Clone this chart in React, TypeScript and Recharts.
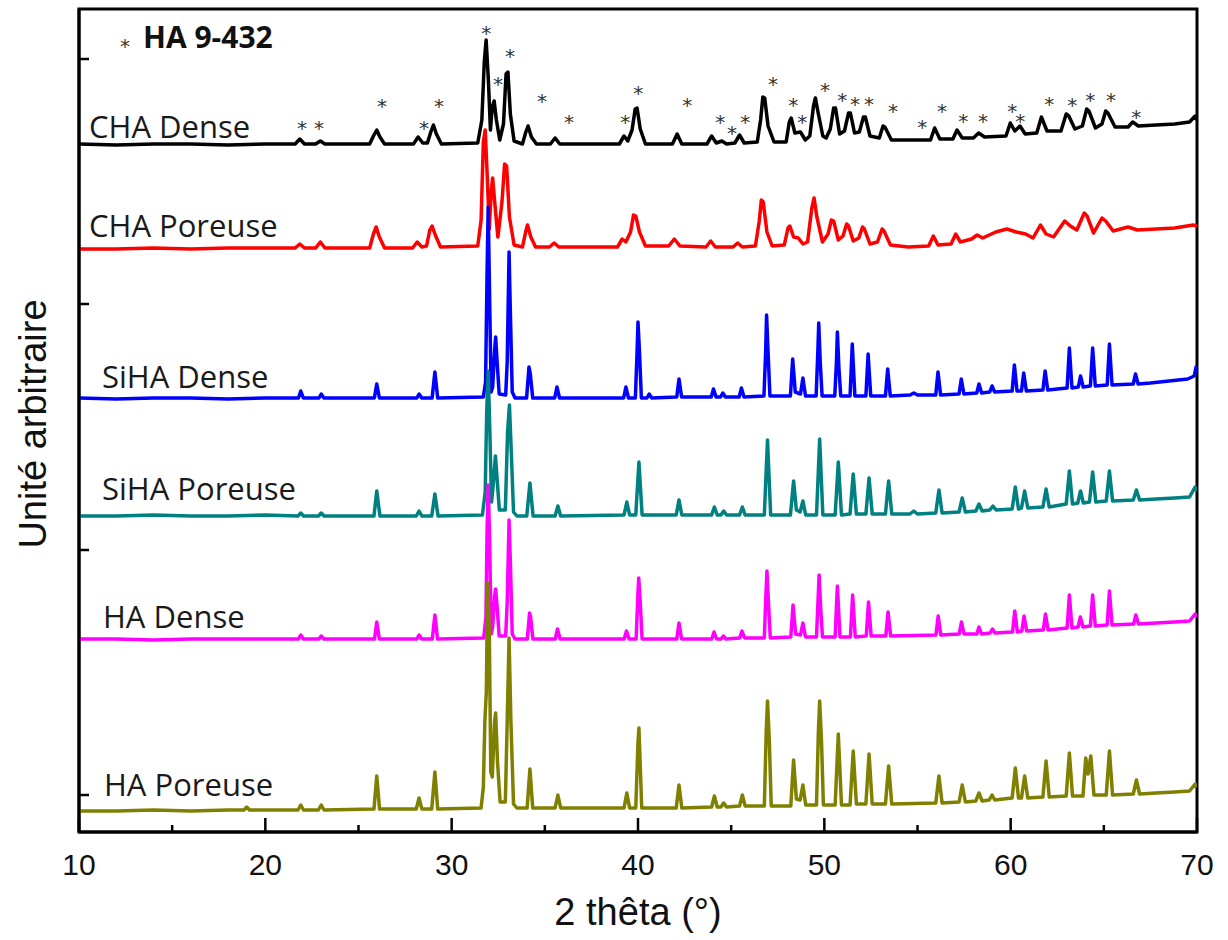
import React from "react";
import { ComposedChart, Line, Scatter, XAxis, YAxis, ReferenceArea } from "recharts";

type Pt = [number, number];

// 2 thêta (°) vs intensity, arbitrary units (the six patterns are stacked with an offset)
const chaDense: Pt[] = [
  [10, 688], [12, 687], [14, 688], [16, 688], [18, 687], [20, 688],
  [21.6, 688], [21.85, 693], [22.1, 688], [22.7, 688], [22.95, 691], [23.2, 688],
  [25.6, 688], [25.8, 696], [25.98, 702], [26.15, 695], [26.4, 688],
  [27.95, 688], [28.2, 695], [28.45, 689], [28.7, 689], [28.88, 700], [29.02, 707], [29.18, 698], [29.45, 688],
  [31.4, 689], [31.62, 712], [31.75, 770], [31.85, 792], [31.97, 752], [32.08, 702], [32.18, 725], [32.28, 731],
  [32.4, 712], [32.58, 692], [32.78, 708], [32.92, 758], [33.02, 760], [33.15, 718], [33.35, 691],
  [33.8, 688], [33.98, 700], [34.1, 706], [34.28, 695], [34.55, 688],
  [35.3, 688], [35.55, 694], [35.8, 688],
  [39.0, 688], [39.25, 696], [39.45, 691], [39.68, 702], [39.85, 723], [39.95, 724], [40.12, 703], [40.4, 688],
  [41.85, 688], [42.1, 698], [42.35, 688],
  [43.7, 688], [43.95, 696], [44.2, 689], [44.5, 691], [44.75, 688],
  [45.2, 689], [45.45, 697], [45.7, 689],
  [46.4, 690], [46.58, 712], [46.7, 735], [46.8, 734], [46.98, 706], [47.3, 690],
  [47.95, 690], [48.12, 710], [48.22, 714], [48.42, 699], [48.72, 700], [48.98, 692],
  [49.22, 696], [49.42, 726], [49.52, 734], [49.68, 718], [49.92, 696],
  [50.1, 694], [50.32, 703], [50.5, 724], [50.6, 724], [50.82, 698],
  [51.08, 701], [51.3, 719], [51.4, 719], [51.62, 699],
  [51.88, 700], [52.1, 715], [52.2, 715], [52.45, 696],
  [52.95, 694], [53.15, 706], [53.25, 705], [53.6, 692],
  [54.5, 692], [55.7, 692], [55.92, 704], [56.2, 693],
  [56.9, 693], [57.12, 702], [57.4, 694], [58.0, 694], [58.28, 699], [58.6, 695],
  [59.75, 696], [59.98, 709], [60.22, 701], [60.5, 706], [60.78, 698],
  [61.4, 699], [61.65, 715], [61.95, 701],
  [62.7, 701], [62.98, 718], [63.12, 716], [63.45, 703],
  [63.85, 706], [64.08, 723], [64.2, 721], [64.55, 704],
  [64.9, 708], [65.1, 721], [65.22, 719], [65.6, 705],
  [66.3, 705], [66.55, 710], [66.85, 706], [67.8, 707], [68.8, 708], [69.6, 710], [69.9, 716], [70, 712],
];

const chaPoreuse: Pt[] = [
  [10, 583], [12, 583], [14, 584], [16, 583], [18, 584], [20, 584],
  [21.6, 584], [21.85, 588], [22.1, 584], [22.7, 584], [22.95, 590], [23.2, 584],
  [25.6, 584], [25.8, 598], [25.95, 605], [26.12, 595], [26.4, 584],
  [27.9, 584], [28.15, 590], [28.4, 585], [28.65, 586], [28.83, 602], [28.95, 606], [29.12, 597], [29.4, 585],
  [31.4, 586], [31.58, 612], [31.7, 690], [31.8, 702], [31.9, 660], [32.02, 603], [32.12, 640], [32.2, 654],
  [32.3, 632], [32.48, 595], [32.7, 630], [32.84, 668], [32.95, 666], [33.1, 615], [33.35, 587],
  [33.8, 585], [33.97, 600], [34.07, 607], [34.25, 595], [34.5, 585],
  [35.25, 585], [35.5, 589], [35.75, 585],
  [38.9, 585], [39.15, 593], [39.35, 590], [39.6, 600], [39.76, 617], [39.88, 616], [40.08, 600], [40.4, 586],
  [41.65, 586], [41.95, 593], [42.25, 586],
  [43.65, 585], [43.9, 591], [44.15, 585],
  [45.1, 585], [45.35, 589], [45.6, 585],
  [46.3, 586], [46.5, 610], [46.62, 632], [46.72, 630], [46.92, 600], [47.2, 586],
  [47.85, 587], [48.05, 604], [48.15, 606], [48.35, 595], [48.6, 594], [48.85, 588],
  [49.1, 590], [49.33, 624], [49.45, 634], [49.6, 615], [49.9, 590],
  [50.2, 598], [50.38, 612], [50.5, 611], [50.75, 592],
  [51.0, 596], [51.2, 608], [51.3, 606], [51.55, 591],
  [51.85, 594], [52.05, 605], [52.15, 603], [52.45, 588],
  [52.85, 590], [53.1, 603], [53.2, 601], [53.55, 587],
  [54.5, 585], [55.6, 586], [55.85, 596], [56.1, 587],
  [56.8, 588], [57.05, 598], [57.3, 590], [57.9, 593], [58.2, 597], [58.5, 594],
  [59.2, 600], [59.8, 603], [60.3, 600], [60.8, 598], [61.2, 594], [61.6, 607], [61.9, 598],
  [62.3, 595], [62.9, 611], [63.2, 606], [63.55, 602], [63.95, 619], [64.1, 616], [64.45, 599],
  [64.9, 614], [65.1, 611], [65.5, 601], [66.3, 605], [66.8, 602],
  [67.8, 603], [68.8, 604], [69.8, 607], [70, 606],
];

const siDense: Pt[] = [
  [10, 434], [12, 433], [14, 434], [16, 434], [18, 433], [20, 434],
  [21.78, 434], [21.9, 441], [22.04, 434],
  [22.88, 434], [23.0, 438], [23.14, 434],
  [25.85, 434], [25.98, 448], [26.12, 434],
  [28.13, 434], [28.25, 438], [28.39, 434],
  [28.95, 434], [29.1, 460], [29.25, 434],
  [31.7, 435], [31.82, 450], [31.9, 560], [31.96, 625], [32.04, 530], [32.12, 440], [32.2, 445], [32.3, 480],
  [32.36, 495], [32.44, 470], [32.55, 438], [32.9, 437], [32.98, 470], [33.08, 580], [33.15, 520], [33.25, 440], [33.4, 434],
  [34.02, 434], [34.15, 465], [34.22, 458], [34.35, 434],
  [35.53, 434], [35.65, 445], [35.79, 434],
  [39.23, 434], [39.35, 445], [39.49, 434],
  [39.86, 434], [39.95, 480], [40.0, 510], [40.08, 480], [40.18, 434],
  [40.48, 434], [40.6, 438], [40.74, 434],
  [42.08, 435], [42.2, 453], [42.34, 435],
  [43.93, 435], [44.05, 443], [44.19, 435],
  [44.43, 435], [44.55, 439], [44.69, 435],
  [45.43, 435], [45.55, 444], [45.69, 435],
  [46.76, 436], [46.85, 480], [46.9, 517], [46.98, 480], [47.08, 436],
  [48.18, 436], [48.3, 473], [48.44, 440], [48.72, 438], [48.85, 454], [48.99, 436],
  [49.56, 436], [49.65, 480], [49.7, 509], [49.78, 470], [49.88, 436],
  [50.56, 436], [50.65, 470], [50.7, 500], [50.78, 465], [50.88, 436],
  [51.38, 436], [51.5, 488], [51.64, 436],
  [52.23, 436], [52.35, 478], [52.49, 436],
  [53.28, 436], [53.4, 463], [53.54, 436],
  [54.6, 437], [54.8, 439], [55.0, 437],
  [55.98, 437], [56.1, 460], [56.24, 437],
  [57.23, 438], [57.35, 453], [57.49, 438],
  [58.18, 439], [58.3, 448], [58.44, 439],
  [58.88, 440], [59.0, 446], [59.14, 440],
  [60.08, 441], [60.2, 467], [60.34, 441], [60.58, 441], [60.7, 459], [60.84, 441],
  [61.73, 442], [61.85, 461], [61.99, 442],
  [63.03, 444], [63.15, 484], [63.29, 444], [63.63, 445], [63.75, 456], [63.89, 445],
  [64.28, 446], [64.4, 484], [64.54, 446],
  [65.18, 447], [65.3, 488], [65.44, 447],
  [66.58, 448], [66.7, 458], [66.84, 448],
  [67.5, 449], [68.5, 451], [69.5, 453], [69.85, 456], [69.95, 465], [70, 462],
];

const siPoreuse: Pt[] = [
  [10, 316], [12, 316], [14, 317], [16, 316], [18, 316], [20, 317],
  [21.75, 316], [21.9, 319], [22.05, 316],
  [22.85, 316], [23.0, 319], [23.15, 316],
  [25.83, 316], [25.98, 341], [26.15, 316],
  [28.1, 316], [28.25, 321], [28.4, 316],
  [28.93, 316], [29.1, 338], [29.27, 316],
  [31.65, 317], [31.8, 340], [31.88, 420], [31.96, 461], [32.05, 400], [32.14, 330], [32.22, 345], [32.35, 376],
  [32.45, 350], [32.56, 322], [32.88, 322], [33.0, 400], [33.1, 427], [33.2, 380], [33.32, 320], [33.5, 316],
  [34.03, 316], [34.2, 349], [34.37, 316],
  [35.55, 316], [35.7, 326], [35.85, 316],
  [39.25, 317], [39.4, 330], [39.55, 317],
  [39.88, 317], [40.05, 370], [40.22, 317],
  [42.05, 317], [42.2, 332], [42.35, 317],
  [43.95, 317], [44.1, 325], [44.25, 317],
  [44.45, 317], [44.6, 321], [44.75, 317],
  [45.45, 317], [45.6, 325], [45.75, 317],
  [46.78, 317], [46.95, 392], [47.12, 317],
  [48.18, 317], [48.35, 351], [48.5, 322], [48.7, 320], [48.85, 331], [49.0, 317],
  [49.58, 317], [49.75, 393], [49.92, 317],
  [50.58, 317], [50.75, 370], [50.92, 317],
  [51.38, 318], [51.55, 358], [51.72, 318],
  [52.23, 318], [52.4, 354], [52.57, 318],
  [53.28, 318], [53.45, 351], [53.62, 318],
  [54.6, 318], [54.8, 321], [55.0, 318],
  [55.98, 319], [56.15, 342], [56.32, 319],
  [57.23, 320], [57.4, 334], [57.57, 320],
  [58.13, 321], [58.3, 328], [58.47, 321],
  [58.88, 322], [59.05, 326], [59.22, 322],
  [60.08, 323], [60.25, 345], [60.42, 323], [60.58, 324], [60.75, 341], [60.92, 324],
  [61.73, 325], [61.9, 343], [62.07, 325],
  [62.98, 328], [63.15, 361], [63.32, 328], [63.6, 329], [63.75, 341], [63.9, 329],
  [64.23, 330], [64.4, 360], [64.57, 330],
  [65.13, 331], [65.3, 361], [65.47, 331],
  [66.58, 332], [66.75, 342], [66.92, 332],
  [67.8, 333], [68.8, 334], [69.6, 335], [69.9, 345], [70, 341],
];

const haDense: Pt[] = [
  [10, 193], [12, 193], [14, 192], [16, 193], [18, 193], [20, 193],
  [21.78, 193], [21.9, 197], [22.04, 193],
  [22.88, 193], [23.0, 196], [23.14, 193],
  [25.86, 193], [25.98, 210], [26.12, 193],
  [28.13, 193], [28.25, 197], [28.39, 193],
  [28.96, 193], [29.1, 217], [29.24, 193],
  [31.72, 194], [31.84, 215], [31.9, 300], [31.96, 347], [32.04, 290], [32.12, 198], [32.2, 205], [32.3, 235],
  [32.36, 243], [32.44, 225], [32.55, 196], [32.9, 196], [32.98, 230], [33.08, 312], [33.15, 270], [33.25, 198], [33.4, 193],
  [34.06, 193], [34.18, 219], [34.24, 214], [34.36, 193],
  [35.56, 193], [35.68, 203], [35.82, 193],
  [39.26, 193], [39.38, 201], [39.52, 193],
  [39.9, 193], [40.0, 240], [40.04, 254], [40.12, 230], [40.22, 193],
  [42.08, 193], [42.2, 209], [42.34, 193],
  [43.96, 193], [44.08, 200], [44.22, 193],
  [44.46, 193], [44.58, 196], [44.72, 193],
  [45.46, 194], [45.58, 201], [45.72, 194],
  [46.78, 194], [46.86, 235], [46.92, 261], [47.0, 230], [47.1, 194],
  [48.2, 195], [48.32, 227], [48.46, 198], [48.72, 197], [48.85, 209], [48.99, 195],
  [49.58, 195], [49.67, 235], [49.72, 257], [49.8, 225], [49.9, 195],
  [50.58, 195], [50.7, 246], [50.84, 195],
  [51.4, 195], [51.52, 237], [51.66, 195],
  [52.25, 196], [52.37, 230], [52.51, 196],
  [53.3, 196], [53.42, 220], [53.56, 196],
  [55.99, 197], [56.11, 216], [56.25, 197],
  [57.24, 198], [57.36, 210], [57.5, 198],
  [58.18, 198], [58.3, 205], [58.44, 198],
  [58.9, 199], [59.02, 203], [59.16, 199],
  [60.1, 200], [60.22, 221], [60.36, 200], [60.6, 201], [60.72, 216], [60.86, 201],
  [61.75, 202], [61.87, 218], [62.01, 202],
  [63.03, 204], [63.15, 237], [63.29, 204], [63.62, 205], [63.74, 215], [63.88, 205],
  [64.28, 206], [64.4, 237], [64.54, 206],
  [65.18, 207], [65.3, 241], [65.44, 207],
  [66.6, 208], [66.72, 217], [66.86, 208],
  [67.8, 209], [68.8, 210], [69.6, 211], [69.9, 218], [70, 215],
];

const haPoreuse: Pt[] = [
  [10, 21], [12, 21], [14, 22], [16, 21], [18, 22], [18.85, 22], [19.0, 25], [19.15, 22], [20, 22],
  [21.75, 22], [21.9, 27], [22.05, 22],
  [22.85, 22], [23.0, 27], [23.15, 22],
  [25.83, 23], [25.98, 56], [26.13, 23],
  [28.1, 23], [28.25, 34], [28.4, 23],
  [28.93, 23], [29.1, 60], [29.25, 23],
  [31.58, 24], [31.7, 45], [31.78, 110], [31.86, 140], [31.93, 249], [32.02, 200], [32.1, 60], [32.18, 55], [32.3, 110],
  [32.36, 119], [32.46, 70], [32.6, 30], [32.88, 30], [32.98, 110], [33.08, 194], [33.18, 110], [33.32, 28], [33.5, 24],
  [34.05, 24], [34.2, 63], [34.35, 24],
  [35.55, 24], [35.7, 37], [35.85, 24],
  [39.25, 24], [39.4, 39], [39.55, 24],
  [39.88, 24], [40.0, 90], [40.05, 104], [40.2, 24],
  [42.05, 24], [42.2, 47], [42.35, 24],
  [43.95, 25], [44.1, 36], [44.25, 25],
  [44.45, 25], [44.6, 29], [44.75, 25],
  [45.45, 26], [45.6, 37], [45.75, 26],
  [46.78, 26], [46.88, 100], [46.95, 131], [47.05, 90], [47.15, 26],
  [48.2, 26], [48.35, 72], [48.5, 33], [48.7, 32], [48.85, 47], [49.0, 27],
  [49.58, 27], [49.68, 100], [49.75, 131], [49.85, 90], [49.95, 27],
  [50.58, 27], [50.75, 98], [50.92, 27],
  [51.38, 27], [51.55, 81], [51.72, 28],
  [52.23, 28], [52.4, 78], [52.57, 28],
  [53.28, 28], [53.45, 66], [53.62, 28],
  [55.98, 29], [56.15, 56], [56.32, 29],
  [57.23, 30], [57.4, 47], [57.57, 30],
  [58.13, 31], [58.3, 39], [58.47, 31],
  [58.85, 32], [59.0, 37], [59.15, 32],
  [60.08, 34], [60.25, 64], [60.42, 34], [60.58, 34], [60.75, 56], [60.92, 34],
  [61.73, 35], [61.9, 71], [62.07, 35],
  [62.98, 36], [63.15, 79], [63.32, 36],
  [63.88, 36], [64.03, 74], [64.15, 58], [64.3, 76], [64.47, 37],
  [65.13, 37], [65.3, 81], [65.47, 37],
  [66.58, 38], [66.75, 52], [66.92, 38],
  [67.8, 39], [68.8, 40], [69.6, 41], [69.9, 48], [70, 45],
];

// reference HA (JCPDS 9-432) reflections marked with * above the CHA Dense pattern
const haRefMarks: Pt[] = [
  [21.97, 708], [22.88, 708], [26.26, 730], [28.52, 708], [29.32, 730], [31.85, 803], [32.49, 752],
  [33.13, 780], [34.85, 735], [36.3, 714], [39.31, 714], [40.01, 743], [42.64, 731], [44.41, 714],
  [45.05, 703], [45.75, 714], [47.25, 752], [48.33, 731], [48.81, 714], [50.04, 746], [50.96, 736],
  [51.65, 732], [52.4, 732], [53.69, 725], [55.25, 709], [56.32, 725], [57.45, 715], [58.52, 715],
  [60.08, 725], [60.51, 715], [62.07, 732], [63.3, 731], [64.27, 736], [65.39, 736], [66.74, 719],
];

const xTicks = [10, 15, 20, 25, 30, 35, 40, 45, 50, 55, 60, 65, 70];
const yTicks = [37, 282, 528, 773];

const series = [
  { name: "CHA Dense", pts: chaDense, color: "#000000" },
  { name: "CHA Poreuse", pts: chaPoreuse, color: "#ff0000" },
  { name: "SiHA Dense", pts: siDense, color: "#0000ff" },
  { name: "SiHA Poreuse", pts: siPoreuse, color: "#008080" },
  { name: "HA Dense", pts: haDense, color: "#ff00ff" },
  { name: "HA Poreuse", pts: haPoreuse, color: "#808000" },
];

const rows = (pts: Pt[]) => pts.map(([t, i]) => ({ t, i }));

const sans = "'Liberation Sans', Arial, sans-serif";
const labelFont = "'Open Sans', 'Noto Sans', sans-serif";

// x ticks point up into the plot; labels only on the tens
const XTick = (props: any) => {
  const { x, y, payload } = props;
  const major = payload.value % 10 === 0;
  return (
    <g>
      <line x1={x} x2={x} y1={y} y2={y - (major ? 14 : 7)} stroke="#000" strokeWidth={2.5} />
      {major && (
        <text x={x} y={y + 43} textAnchor="middle" fontSize={30} fontFamily={sans} fill="#111">
          {payload.value}
        </text>
      )}
    </g>
  );
};

const YTick = (props: any) => {
  const { x, y } = props;
  return <line x1={x} x2={x + 10} y1={y} y2={y} stroke="#000" strokeWidth={2.5} />;
};

const Star = (props: any) => (
  <text x={props.cx} y={props.cy + 11} textAnchor="middle" fontSize={20} fontFamily="'DejaVu Sans', sans-serif" fill="#333">
    *
  </text>
);

// where each pattern's name is written (left edge, text baseline)
const nameSpots = [
  [89, 138], [89, 237], [102, 388], [102, 500], [103, 628], [104, 796],
];

export default function App() {
  return (
    <div style={{ position: "absolute", left: 0, top: 0, width: 1228, height: 940, background: "#fff" }}>
      <ComposedChart width={1228} height={940} margin={{ top: 9, right: 31, bottom: 48, left: 19 }}>
        <XAxis
          type="number"
          dataKey="t"
          domain={[10, 70]}
          ticks={xTicks}
          interval={0}
          height={60}
          tickSize={0}
          tickMargin={0}
          tickLine={false}
          tick={<XTick />}
          axisLine={{ stroke: "#000", strokeWidth: 3 }}
          allowDataOverflow
        />
        <YAxis
          type="number"
          dataKey="i"
          domain={[0, 823]}
          ticks={yTicks}
          interval={0}
          width={60}
          tickSize={0}
          tickMargin={0}
          tickLine={false}
          tick={<YTick />}
          axisLine={{ stroke: "#000", strokeWidth: 3 }}
          allowDataOverflow
        />
        <ReferenceArea x1={10} x2={70} y1={0} y2={823} fill="none" stroke="#000" strokeWidth={3} ifOverflow="visible" />
        {series.map((s) => (
          <Line
            key={s.name}
            data={rows(s.pts)}
            dataKey="i"
            type="linear"
            stroke={s.color}
            strokeWidth={3.5}
            strokeLinejoin="round"
            dot={false}
            activeDot={false}
            isAnimationActive={false}
          />
        ))}
        <Scatter data={rows(haRefMarks)} dataKey="i" shape={<Star />} isAnimationActive={false} />
      </ComposedChart>
      <svg width={1228} height={940} style={{ position: "absolute", left: 0, top: 0, pointerEvents: "none" }}>
        {series.map((s, k) => (
          <text key={s.name} x={nameSpots[k][0]} y={nameSpots[k][1]} fontSize={31} fontFamily={labelFont} fill="#1a1a1a">
            {s.name}
          </text>
        ))}
        <text x={125} y={53} textAnchor="middle" fontSize={20} fontFamily="'DejaVu Sans', sans-serif" fill="#333">*</text>
        <text x={143} y={48} fontSize={30} fontWeight="bold" fontFamily={labelFont} fill="#111">HA 9-432</text>
        <text x={638} y={925} textAnchor="middle" fontSize={38} fontFamily={sans} fill="#111">2 thêta (°)</text>
        <text transform="translate(46,424) rotate(-90)" textAnchor="middle" fontSize={38} fontFamily={sans} fill="#111">
          Unité arbitraire
        </text>
      </svg>
    </div>
  );
}
